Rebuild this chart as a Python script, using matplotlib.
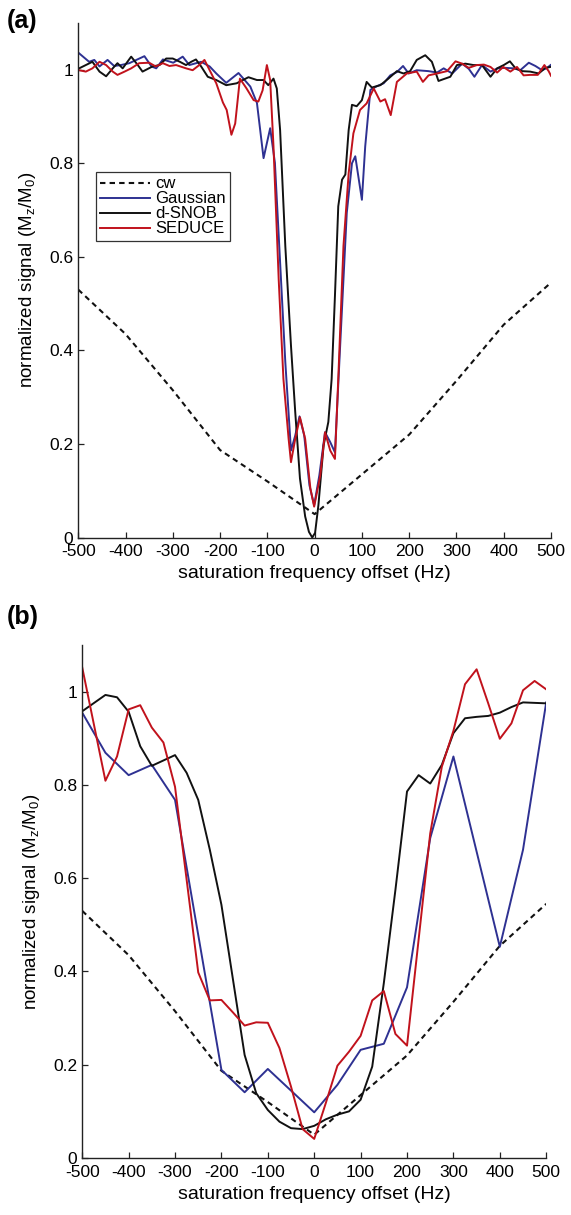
import matplotlib
matplotlib.use("Agg")
import matplotlib.pyplot as plt
from matplotlib.ticker import FuncFormatter

plt.rcParams["font.family"] = ["Liberation Sans", "DejaVu Sans"]
plt.rcParams["mathtext.default"] = "regular"
plt.rcParams["axes.unicode_minus"] = False

# ---------------------------------------------------------------------------
# data
# ---------------------------------------------------------------------------
cw_x = [-500, -400, -300, -200, -100, 0, 100, 200, 300, 400, 500]
cw_y = [0.53, 0.435, 0.315, 0.187, 0.12, 0.05, 0.135, 0.22, 0.335, 0.455, 0.545]

# panel (a): continuous profiles
gauss_a_x = [-498, -477, -466, -455, -438, -424, -410, -392, -360, -345, -335, -321,
             -299, -279, -265, -240, -222, -208, -187, -161, -136, -122, -108, -94,
             -84, -73, -62, -50, -41, -32, -22, -11, -1, 10, 22, 33, 43, 54, 68, 79,
             86, 100, 107, 118, 132, 146, 160, 174, 187, 199, 216, 241, 259, 273, 291,
             312, 326, 338, 354, 372, 387, 403, 421, 435, 453, 467, 481, 492, 499]
gauss_a_y = [1.035, 1.017, 1.021, 1.007, 1.021, 1.008, 1.010, 1.014, 1.029, 1.007, 1.003, 1.022,
             1.015, 1.028, 1.010, 1.017, 1.007, 0.992, 0.972, 0.993, 0.964, 0.929, 0.811, 0.875,
             0.801, 0.588, 0.375, 0.186, 0.218, 0.259, 0.218, 0.112, 0.069, 0.133, 0.225, 0.204,
             0.182, 0.410, 0.694, 0.800, 0.815, 0.722, 0.836, 0.957, 0.965, 0.971, 0.988, 0.995,
             1.008, 0.992, 0.999, 0.997, 0.994, 1.003, 0.992, 1.013, 1.002, 0.985, 1.010, 0.996,
             1.003, 1.004, 1.003, 0.999, 1.015, 1.008, 0.999, 1.004, 1.010]

snob_a_x = [-498, -484, -470, -455, -441, -427, -417, -406, -388, -374, -364, -343, -328,
            -314, -300, -285, -272, -261, -251, -240, -226, -208, -187, -165, -140, -122,
            -108, -98, -87, -80, -73, -62, -50, -41, -31, -20, -12, -5, 1, 8, 19, 29, 36,
            43, 50, 58, 65, 72, 79, 89, 100, 110, 121, 139, 156, 174, 188, 202, 216, 234,
            248, 262, 273, 287, 301, 319, 336, 354, 372, 386, 400, 413, 425, 439, 456,
            474, 488, 499]
snob_a_y = [1.003, 1.010, 1.017, 0.996, 0.986, 1.003, 1.014, 1.003, 1.028, 1.010, 0.996, 1.007,
            1.010, 1.024, 1.024, 1.017, 1.010, 1.017, 1.022, 1.007, 0.985, 0.978, 0.967, 0.971,
            0.984, 0.978, 0.978, 0.967, 0.981, 0.960, 0.871, 0.623, 0.410, 0.268, 0.126, 0.045,
            0.012, 0.0, 0.010, 0.069, 0.197, 0.247, 0.339, 0.517, 0.708, 0.765, 0.776, 0.871,
            0.925, 0.922, 0.935, 0.974, 0.962, 0.967, 0.981, 0.997, 0.992, 0.997, 1.021, 1.031,
            1.017, 0.976, 0.980, 0.985, 1.010, 1.013, 1.010, 1.010, 0.985, 1.003, 1.010, 1.018,
            1.003, 0.997, 0.996, 0.992, 1.004, 1.006]

seduce_a_x = [-498, -484, -470, -455, -441, -427, -417, -402, -388, -371, -350, -336, -321,
              -307, -293, -272, -258, -244, -233, -222, -208, -194, -186, -176, -168, -158,
              -144, -129, -119, -110, -101, -94, -87, -76, -66, -55, -50, -41, -31, -20, -9,
              -1, 12, 22, 33, 43, 50, 61, 72, 82, 96, 110, 125, 139, 149, 161, 174, 195, 216,
              229, 241, 259, 280, 298, 312, 326, 343, 358, 372, 386, 399, 414, 428, 442, 456,
              472, 486, 495, 500]
seduce_a_y = [0.999, 0.996, 1.003, 1.017, 1.010, 0.996, 0.989, 0.996, 1.003, 1.014, 1.015, 1.007,
              1.014, 1.008, 1.010, 1.003, 0.999, 1.010, 1.021, 0.999, 0.971, 0.930, 0.914, 0.861,
              0.885, 0.981, 0.960, 0.935, 0.932, 0.956, 1.010, 0.978, 0.836, 0.552, 0.339, 0.211,
              0.161, 0.211, 0.257, 0.211, 0.105, 0.066, 0.133, 0.225, 0.186, 0.168, 0.339, 0.623,
              0.779, 0.864, 0.914, 0.928, 0.960, 0.932, 0.937, 0.903, 0.974, 0.992, 0.996, 0.974,
              0.988, 0.992, 0.997, 1.018, 1.013, 1.004, 1.010, 1.011, 1.006, 0.994, 1.006, 0.996,
              1.006, 0.988, 0.989, 0.989, 1.010, 0.997, 0.987]

# panel (b): sampled profiles
gauss_b_x = [-500, -450, -400, -350, -300, -200, -150, -100, 0, 50, 100, 150, 200, 250, 300,
             400, 450, 500]
gauss_b_y = [0.955, 0.869, 0.821, 0.843, 0.768, 0.189, 0.141, 0.191, 0.098, 0.157, 0.232,
             0.245, 0.366, 0.686, 0.861, 0.453, 0.661, 0.977]

snob_b_x = [-500, -450, -425, -400, -375, -350, -300, -275, -250, -225, -200, -175, -150,
            -125, -100, -75, -50, -25, 0, 25, 50, 75, 100, 125, 150, 175, 200, 225, 250, 275,
            300, 325, 350, 375, 400, 425, 450, 500]
snob_b_y = [0.958, 0.993, 0.988, 0.957, 0.883, 0.841, 0.864, 0.826, 0.768, 0.661, 0.543,
            0.382, 0.221, 0.139, 0.103, 0.078, 0.064, 0.062, 0.069, 0.083, 0.093, 0.100, 0.125,
            0.196, 0.375, 0.575, 0.786, 0.821, 0.803, 0.843, 0.911, 0.943, 0.946, 0.948, 0.955,
            0.967, 0.977, 0.975]

seduce_b_x = [-500, -450, -425, -400, -375, -350, -325, -300, -250, -225, -200, -175, -150,
              -125, -100, -75, -50, -25, 0, 25, 50, 75, 100, 125, 150, 175, 200, 250, 275, 300,
              325, 350, 375, 400, 425, 450, 475, 500]
seduce_b_y = [1.052, 0.809, 0.861, 0.962, 0.971, 0.923, 0.891, 0.796, 0.398, 0.338, 0.339,
              0.312, 0.284, 0.291, 0.290, 0.236, 0.153, 0.062, 0.041, 0.118, 0.198, 0.228, 0.262,
              0.338, 0.358, 0.266, 0.241, 0.696, 0.839, 0.916, 1.016, 1.048, 0.975, 0.899, 0.932,
              1.003, 1.023, 1.005]

BLUE = "#2E3192"
RED = "#C1121C"
BLACK = "#111111"


def style_axes(ax):
    ax.set_xlim(-500, 500)
    ax.set_ylim(0, 1.1)
    ax.set_xticks(range(-500, 501, 100))
    ax.set_yticks([0, 0.2, 0.4, 0.6, 0.8, 1.0])
    ax.yaxis.set_major_formatter(FuncFormatter(lambda v, p: f"{v:g}"))
    for side in ("top", "right"):
        ax.spines[side].set_visible(False)
    for side in ("left", "bottom"):
        ax.spines[side].set_linewidth(1.0)
        ax.spines[side].set_color("#222222")
    ax.tick_params(direction="in", length=4, width=0.9, labelsize=12.5, colors="#222222",
                   labelcolor="black")
    ax.tick_params(axis="x", pad=5)
    ax.set_xlabel("saturation frequency offset (Hz)", fontsize=14, labelpad=4)
    ax.set_ylabel("normalized signal (M$_z$/M$_0$)", fontsize=13.5, labelpad=8)


fig = plt.figure(figsize=(5.71, 12.15), dpi=100)
fig.patch.set_facecolor("white")

ax_a = fig.add_axes([0.137, 0.5576, 0.828, 0.4235])
ax_b = fig.add_axes([0.144, 0.0469, 0.8126, 0.4222])

lw = 1.4
dash = (0, (2.6, 2.0))

# (a)
ax_a.plot(cw_x, cw_y, color=BLACK, lw=1.5, linestyle=dash, label="cw")
ax_a.plot(gauss_a_x, gauss_a_y, color=BLUE, lw=lw, label="Gaussian")
ax_a.plot(snob_a_x, snob_a_y, color=BLACK, lw=lw, label="d-SNOB")
ax_a.plot(seduce_a_x, seduce_a_y, color=RED, lw=lw, label="SEDUCE")
style_axes(ax_a)
leg = ax_a.legend(loc="upper left", bbox_to_anchor=(0.037, 0.71), borderaxespad=0,
                  fontsize=12, frameon=True, fancybox=False, edgecolor="black",
                  handlelength=3.0, handletextpad=0.3, labelspacing=0.0,
                  borderpad=0.25)
leg.get_frame().set_linewidth(0.9)

# (b)
ax_b.plot(cw_x, cw_y, color=BLACK, lw=1.5, linestyle=dash)
ax_b.plot(gauss_b_x, gauss_b_y, color=BLUE, lw=lw)
ax_b.plot(snob_b_x, snob_b_y, color=BLACK, lw=lw)
ax_b.plot(seduce_b_x, seduce_b_y, color=RED, lw=lw)
style_axes(ax_b)

fig.text(0.012, 0.993, "(a)", fontsize=18, fontweight="bold", va="top", ha="left")
fig.text(0.012, 0.502, "(b)", fontsize=18, fontweight="bold", va="top", ha="left")

fig.savefig("out.png", dpi=100, facecolor="white")
plt.close(fig)
